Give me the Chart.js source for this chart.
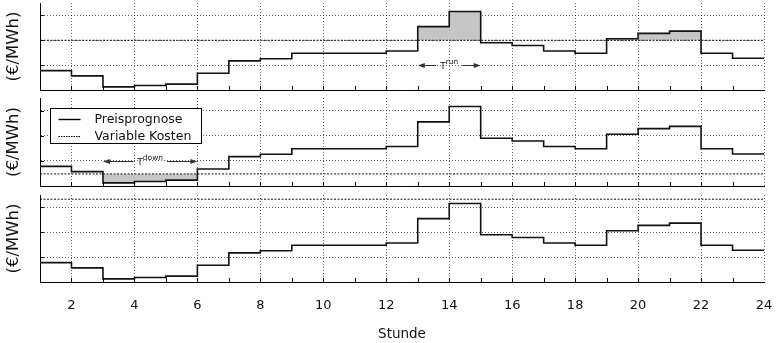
<!DOCTYPE html>
<html>
<head>
<meta charset="utf-8">
<script src="https://cdn.jsdelivr.net/npm/chart.js@4/dist/chart.umd.min.js"></script>
<style>
  html, body { margin: 0; padding: 0; background: #fff; }
  #wrap { position: relative; width: 779px; height: 343px; }
  .panel { position: absolute; left: 0; width: 779px; }
  canvas { display: block; }
</style>
</head>
<body>
<div id="wrap">
  <div class="panel" style="top:0px"><canvas id="c1" width="779" height="93"></canvas></div>
  <div class="panel" style="top:95px"><canvas id="c2" width="779" height="94"></canvas></div>
  <div class="panel" style="top:192px"><canvas id="c3" width="779" height="151"></canvas></div>
</div>
<script>
// Stunden des Tages (Rand der Stufen) und stündliche Preisprognose in €/MWh
const stunden = [1, 2, 3, 4, 5, 6, 7, 8, 9, 10, 11, 12, 13, 14, 15, 16, 17, 18, 19, 20, 21, 22, 23, 24];
const preisprognose = [7.8, 5.7, 1.25, 1.8, 2.35, 6.75, 11.7, 12.6, 14.8, 14.8, 14.8, 15.7,
                       25.5, 31.6, 19.0, 17.9, 15.7, 14.8, 20.6, 22.8, 23.7, 14.8, 12.75];
// Variable Kosten je Szenario (oben, Mitte, unten)
const variableKosten = [20, 4.8, 33.3];
// Achsenteilung
const xTicks = [2, 4, 6, 8, 10, 12, 14, 16, 18, 20, 22, 24];
const yGrid = [0, 10, 20, 30];
const yMax = 35;
// Lauf- bzw. Stillstandszeiten mit Pfeil-Beschriftung
const zeitraeume = [
  { sup: 'run', von: 13, bis: 15, hoehe: 10 },
  { sup: 'down', von: 3, bis: 6, hoehe: 10 },
  null
];

const FONT = "'DejaVu Sans', Verdana, sans-serif";
Chart.defaults.font.family = FONT;
Chart.defaults.color = '#111';

const grau = '#c6c6c6';
const gitter = 'rgba(0,0,0,0.6)';

// kurze, nach innen zeigende Teilstriche an beiden Achsen
const innenTicks = {
  id: 'innenTicks',
  afterDatasetsDraw(chart) {
    const { ctx, chartArea: a, scales: { x, y } } = chart;
    ctx.save();
    ctx.strokeStyle = '#000';
    ctx.lineWidth = 1;
    ctx.beginPath();
    stunden.forEach(h => {
      if (h === stunden[0] || h === stunden[stunden.length - 1]) return;
      const px = Math.round(x.getPixelForValue(h)) + 0.5;
      ctx.moveTo(px, a.bottom);
      ctx.lineTo(px, a.bottom - 4);
    });
    yGrid.forEach(v => {
      if (v === 0) return;
      const py = Math.round(y.getPixelForValue(v)) + 0.5;
      ctx.moveTo(a.left, py);
      ctx.lineTo(a.left + 4, py);
    });
    ctx.stroke();
    ctx.restore();
  }
};

// Doppelpfeil mit Beschriftung T^run / T^down
function pfeilPlugin(idx) {
  return {
    id: 'pfeil' + idx,
    afterDatasetsDraw(chart) {
      const z = zeitraeume[idx];
      if (!z) return;
      const { ctx, scales: { x, y } } = chart;
      const x0 = x.getPixelForValue(z.von);
      const x1 = x.getPixelForValue(z.bis);
      const yy = Math.round(y.getPixelForValue(z.hoehe)) + 0.5;
      ctx.save();
      ctx.font = '9px ' + FONT;
      const wT = ctx.measureText('T').width;
      ctx.font = '7.5px ' + FONT;
      const wS = ctx.measureText(z.sup).width;
      const w = wT + wS;
      const cx = (x0 + x1) / 2;
      const l = cx - w / 2, r = cx + w / 2;
      ctx.fillStyle = '#222';
      ctx.textBaseline = 'alphabetic';
      ctx.font = '9px ' + FONT;
      ctx.fillText('T', l, yy + 3.5);
      ctx.font = '7.5px ' + FONT;
      ctx.fillText(z.sup, l + wT, yy - 2);
      ctx.strokeStyle = '#333';
      ctx.lineWidth = 1;
      ctx.beginPath();
      ctx.moveTo(x0 + 2, yy); ctx.lineTo(l - 4, yy);
      ctx.moveTo(r + 4, yy); ctx.lineTo(x1 - 2, yy);
      ctx.stroke();
      ctx.fillStyle = '#333';
      ctx.beginPath();
      ctx.moveTo(x0, yy); ctx.lineTo(x0 + 7, yy - 2.5); ctx.lineTo(x0 + 7, yy + 2.5); ctx.closePath();
      ctx.moveTo(x1, yy); ctx.lineTo(x1 - 7, yy - 2.5); ctx.lineTo(x1 - 7, yy + 2.5); ctx.closePath();
      ctx.fill();
      ctx.restore();
    }
  };
}

// Legende im Diagrammfeld mit Rahmen
const legendeBox = {
  id: 'legendeBox',
  afterDraw(chart) {
    const { ctx, chartArea: a } = chart;
    const bx = a.left + 10.5, by = a.top + 10.5, bw = 151, bh = 35;
    ctx.save();
    ctx.fillStyle = '#fff';
    ctx.fillRect(bx, by, bw, bh);
    ctx.strokeStyle = '#000';
    ctx.lineWidth = 1;
    ctx.strokeRect(bx, by, bw, bh);
    const ds = chart.data.datasets;
    const zeilen = [by + 10.5, by + 27.5];
    ds.forEach((d, i) => {
      const ly = Math.round(zeilen[i]);
      ctx.beginPath();
      ctx.strokeStyle = '#000';
      ctx.lineWidth = i === 0 ? 1.4 : 1;
      ctx.setLineDash(i === 0 ? [] : [1.5, 1]);
      ctx.moveTo(bx + 8, ly + 0.5);
      ctx.lineTo(bx + 30, ly + 0.5);
      ctx.stroke();
      ctx.setLineDash([]);
      ctx.fillStyle = '#111';
      ctx.font = '12.5px ' + FONT;
      ctx.textBaseline = 'middle';
      ctx.fillText(d.label, bx + 44, ly + 0.5);
    });
    ctx.restore();
  }
};

function panel(canvasId, idx) {
  const unten = idx === 2;
  const kosten = variableKosten[idx];
  const fuellung = idx === 0 ? { target: { value: kosten }, above: grau, below: 'transparent' }
                 : idx === 1 ? { target: { value: kosten }, above: 'transparent', below: grau }
                 : false;
  const preisPunkte = stunden.map((h, i) => ({ x: h, y: preisprognose[Math.min(i, preisprognose.length - 1)] }));
  return new Chart(document.getElementById(canvasId), {
    type: 'line',
    data: {
      datasets: [
        {
          label: 'Preisprognose',
          data: preisPunkte,
          stepped: 'before',
          borderColor: '#111',
          borderWidth: 1.6,
          pointRadius: 0,
          fill: fuellung
        },
        {
          label: 'Variable Kosten',
          data: [{ x: stunden[0], y: kosten }, { x: stunden[stunden.length - 1], y: kosten }],
          borderColor: '#111',
          borderWidth: 1,
          borderDash: [2, 1.5],
          pointRadius: 0,
          fill: false
        }
      ]
    },
    options: {
      responsive: false,
      animation: false,
      devicePixelRatio: 1,
      layout: { padding: { top: 3, right: 15, left: 0, bottom: 0 } },
      plugins: {
        legend: { display: false },
        tooltip: { enabled: false },
        filler: { drawTime: 'beforeDatasetsDraw' }
      },
      scales: {
        x: {
          type: 'linear',
          min: stunden[0],
          max: stunden[stunden.length - 1],
          afterBuildTicks: s => { s.ticks = xTicks.map(v => ({ value: v })); },
          afterFit: s => { s.height = unten ? 61 : 3; s.paddingLeft = 0; s.paddingRight = 0; },
          ticks: { display: unten, autoSkip: false, maxRotation: 0, padding: 16, font: { size: 13 }, color: '#111' },
          grid: { color: gitter, drawTicks: false, lineWidth: 1 },
          border: { display: true, color: '#000', width: 1, dash: [1, 2] },
          title: { display: unten, text: 'Stunde', font: { size: 13.5 }, color: '#111', padding: { top: 0, bottom: 0 } }
        },
        y: {
          min: 0,
          max: yMax,
          afterBuildTicks: s => { s.ticks = yGrid.map(v => ({ value: v })); },
          afterFit: s => { s.width = 40; s.paddingTop = 0; s.paddingBottom = 0; },
          ticks: { display: false },
          grid: { color: gitter, drawTicks: false, lineWidth: 1 },
          border: { display: true, color: '#000', width: 1, dash: [1, 2] },
          title: { display: true, text: '(€/MWh)', font: { size: 16.5 }, color: '#111', padding: { top: 4, bottom: 0 } }
        }
      }
    },
    plugins: [innenTicks, pfeilPlugin(idx)].concat(idx === 1 ? [legendeBox] : [])
  });
}

panel('c1', 0);
panel('c2', 1);
panel('c3', 2);
</script>
</body>
</html>
